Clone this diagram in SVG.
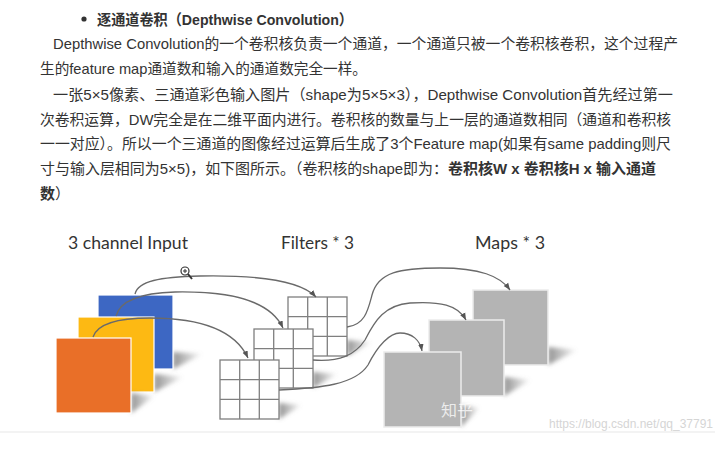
<svg xmlns="http://www.w3.org/2000/svg" width="715" height="456" viewBox="0 0 715 456">
<defs>
<style>
.t{font-family:"Liberation Sans","Noto Sans CJK SC",sans-serif;font-size:15px;fill:#333}
.b{font-weight:bold}
.lbl{font-family:Lato,"Open Sans",sans-serif;font-size:18px;fill:#333}
.grid rect{fill:#fff;stroke:#7f7f7f;stroke-width:1.3}
.grid path{fill:none;stroke:#7f7f7f;stroke-width:1.3}
.sq{stroke:#fff;stroke-width:1.2}
.map{fill:#b4b4b4;stroke:#ececec;stroke-width:1.5}
.conn path{fill:none;stroke:#6a6a6a;stroke-width:1.3;marker-end:url(#ah)}
.sh{fill:url(#shg);filter:url(#blur)}
</style>
<linearGradient id="shg" x1="0" y1="0" x2="1" y2="0">
<stop offset="0" stop-color="#808080" stop-opacity="0.85"/>
<stop offset="1" stop-color="#808080" stop-opacity="0"/>
</linearGradient>
<filter id="blur" x="-30%" y="-30%" width="160%" height="160%">
<feGaussianBlur stdDeviation="2"/>
</filter>
<marker id="ah" viewBox="0 0 10 10" refX="10" refY="5" markerWidth="7" markerHeight="7" orient="auto" markerUnits="userSpaceOnUse">
<path d="M0,1 L10,5 L0,9 z" fill="#555"/>
</marker>
</defs>
<rect width="715" height="456" fill="#fff"/>
<rect x="0" y="431" width="715" height="2" fill="#f3f3f3"/>

<g id="text">
<circle cx="84" cy="19" r="2.6" fill="#333"/>
<text class="t b" x="97" y="24.5" textLength="256" lengthAdjust="spacingAndGlyphs">逐通道卷积（Depthwise Convolution）</text>
<text class="t" x="53" y="48.5" textLength="625" lengthAdjust="spacingAndGlyphs">Depthwise Convolution的一个卷积核负责一个通道，一个通道只被一个卷积核卷积，这个过程产</text>
<text class="t" x="40" y="73.5" textLength="327" lengthAdjust="spacingAndGlyphs">生的feature map通道数和输入的通道数完全一样。</text>
<text class="t" x="53" y="99.5" textLength="620" lengthAdjust="spacingAndGlyphs">一张5×5像素、三通道彩色输入图片（shape为5×5×3），Depthwise Convolution首先经过第一</text>
<text class="t" x="40" y="124.5" textLength="631" lengthAdjust="spacingAndGlyphs">次卷积运算，DW完全是在二维平面内进行。卷积核的数量与上一层的通道数相同（通道和卷积核</text>
<text class="t" x="40" y="148.5" textLength="631" lengthAdjust="spacingAndGlyphs">一一对应）。所以一个三通道的图像经过运算后生成了3个Feature map(如果有same padding则尺</text>
<text class="t" x="40" y="173.5" textLength="616" lengthAdjust="spacingAndGlyphs">寸与输入层相同为5×5)，如下图所示。（卷积核的shape即为：<tspan class="b">卷积核W x 卷积核H x 输入通道</tspan></text>
<text class="t" x="40" y="198.5"><tspan class="b">数</tspan>）</text>
</g>

<g id="labels">
<text class="lbl" x="68" y="249" textLength="120" lengthAdjust="spacingAndGlyphs">3 channel Input</text>
<text class="lbl" x="281" y="249" textLength="73" lengthAdjust="spacingAndGlyphs">Filters * 3</text>
<text class="lbl" x="475" y="249" textLength="70" lengthAdjust="spacingAndGlyphs">Maps * 3</text>
</g>

<g id="input-blue">
<polygon class="sh" points="173,352 203,354 173,369"/>
<rect class="sq" x="98" y="295" width="75" height="74" fill="#3d67c3"/>
</g>
<g id="input-yellow">
<polygon class="sh" points="154,374 184,377 154,392"/>
<rect class="sq" x="78" y="317" width="76" height="75" fill="#fdb913"/>
</g>
<g id="input-orange">
<polygon class="sh" points="131,393 155,396 131,413"/>
<rect class="sq" x="56" y="338" width="75" height="75" fill="#e96f28"/>
</g>

<g id="filter-back" class="grid">
<polygon class="sh" points="347,340 372,342 347,356"/>
<rect x="288" y="297" width="59" height="59"/>
<path d="M307.7,297V356M327.3,297V356M288,316.7H347M288,336.3H347"/>
</g>
<g id="filter-middle" class="grid">
<polygon class="sh" points="313,372 338,374 313,388"/>
<rect x="254" y="329" width="59" height="59"/>
<path d="M273.7,329V388M293.3,329V388M254,348.7H313M254,368.3H313"/>
</g>
<g id="filter-front" class="grid">
<polygon class="sh" points="279,403 302,405 279,419"/>
<rect x="220" y="360" width="59" height="59"/>
<path d="M239.7,360V419M259.3,360V419M220,379.7H279M220,399.3H279"/>
</g>

<g id="map-back">
<polygon class="sh" points="548,347 578,350 548,365"/>
<rect class="map" x="473" y="290" width="75" height="75"/>
</g>
<g id="map-middle">
<polygon class="sh" points="504,377 531,380 504,396"/>
<rect class="map" x="429" y="320" width="75" height="76"/>
</g>
<g id="map-front">
<polygon class="sh" points="461,405 480,408 461,427"/>
<rect class="map" x="384" y="352" width="77" height="75"/>
<text x="441" y="416" font-family="'Noto Sans CJK SC',sans-serif" font-size="16" fill="#fff" fill-opacity="0.75">知乎</text>
</g>

<g id="connectors" class="conn">
<path d="M135,294 C138,281 160,277 200,276 C255,275 300,280 316,297"/>
<path d="M116,316 C120,301 140,293 175,292 C230,291 270,300 283,328"/>
<path d="M93,337 C97,325 115,318 150,318 C200,318 235,330 248,358"/>
<path d="M347,327 C365,325 368,310 372,295 C378,272 400,268 440,268 C480,268 500,276 510,290"/>
<path d="M313,360 C340,362 355,355 365,340 C375,320 385,305 410,303 C440,301 458,305 466,320"/>
<path d="M279,390 C320,388 355,385 368,365 C378,345 390,333 400,333 C412,333 420,340 422,351"/>
</g>

<g id="zoom-icon" fill="none" stroke="#333">
<circle cx="185" cy="271" r="4" stroke-width="1.2" fill="#fff"/>
<path d="M183,271H187M185,269V273" stroke-width="1"/>
<path d="M188,274L192,279" stroke-width="2"/>
</g>

<text x="549" y="428" font-family="'Liberation Sans',sans-serif" font-size="12" fill="#d5d5d5" textLength="164" lengthAdjust="spacingAndGlyphs">https://blog.csdn.net/qq_37791</text>
</svg>
